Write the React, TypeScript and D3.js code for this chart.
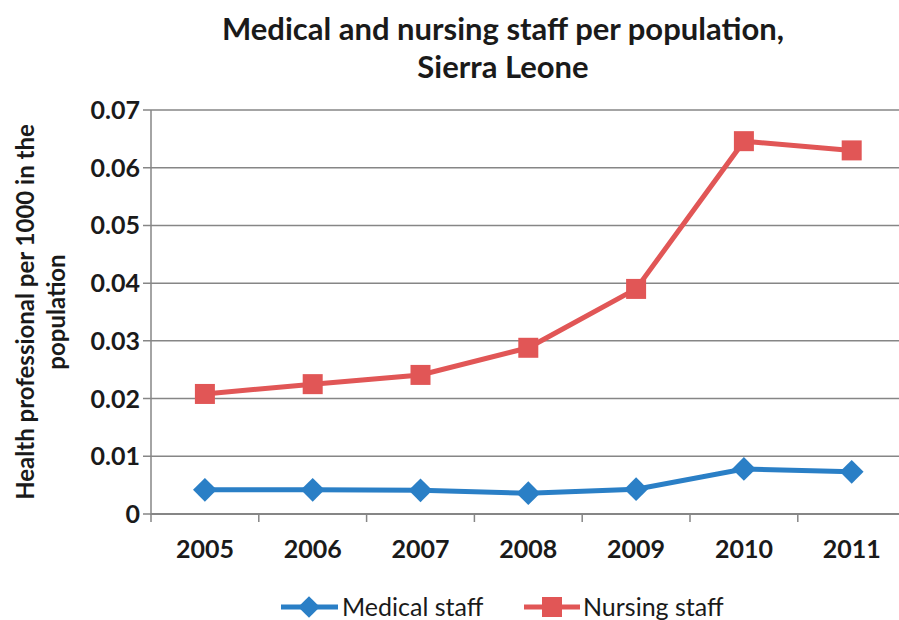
import React, { useEffect, useRef } from 'react';
import * as d3 from 'd3';

const years = ['2005', '2006', '2007', '2008', '2009', '2010', '2011'];
const medicalStaff = [0.0042, 0.0042, 0.0041, 0.0036, 0.0043, 0.0078, 0.0073];
const nursingStaff = [0.0208, 0.0225, 0.0241, 0.0288, 0.039, 0.0646, 0.063];
const yTicks = [0, 0.01, 0.02, 0.03, 0.04, 0.05, 0.06, 0.07];

const width = 899;
const height = 620;
const FONT = 'Lato, "Open Sans", sans-serif';

const App: React.FC = () => {
  const svgRef = useRef<SVGSVGElement | null>(null);

  useEffect(() => {
    if (!svgRef.current) return;
    const svg = d3.select(svgRef.current);
    svg.selectAll('*').remove();

    const left = 151;
    const top = 110;
    const bottom = 514;
    const bandW = 107.8;

    const x = d3.scaleBand<string>().domain(years).range([left, left + bandW * years.length]);
    const y = d3.scaleLinear().domain([0, 0.07]).range([bottom, top]);

    // title
    const title = svg.append('text')
      .attr('text-anchor', 'middle')
      .attr('font-family', FONT)
      .attr('font-weight', 'bold')
      .attr('font-size', 31)
      .attr('fill', '#1a1a1a');
    title.append('tspan').attr('x', 503).attr('y', 40).text('Medical and nursing staff per population,');
    title.append('tspan').attr('x', 503).attr('y', 78).text('Sierra Leone');

    // gridlines + y ticks
    const grid = svg.append('g');
    yTicks.forEach((t) => {
      grid.append('line')
        .attr('x1', left - 8).attr('x2', width)
        .attr('y1', y(t)).attr('y2', y(t))
        .attr('stroke', '#868686').attr('stroke-width', 1.5);
      grid.append('text')
        .attr('x', left - 11)
        .attr('y', y(t))
        .attr('dy', '0.36em')
        .attr('text-anchor', 'end')
        .attr('font-family', FONT)
        .attr('font-weight', 'bold')
        .attr('font-size', 25)
        .attr('fill', '#1a1a1a')
        .text(t === 0 ? '0' : d3.format('.2f')(t));
    });

    // axes
    svg.append('line')
      .attr('x1', left).attr('x2', left)
      .attr('y1', top).attr('y2', bottom + 1)
      .attr('stroke', '#868686').attr('stroke-width', 1.5);
    svg.append('line')
      .attr('x1', left).attr('x2', width)
      .attr('y1', bottom).attr('y2', bottom)
      .attr('stroke', '#868686').attr('stroke-width', 2);

    years.forEach((yr) => {
      const bx = x(yr)!;
      svg.append('line')
        .attr('x1', bx).attr('x2', bx)
        .attr('y1', bottom).attr('y2', bottom + 8)
        .attr('stroke', '#868686').attr('stroke-width', 1.5);
      svg.append('text')
        .attr('x', bx + x.bandwidth() / 2)
        .attr('y', 558)
        .attr('text-anchor', 'middle')
        .attr('font-family', FONT)
        .attr('font-weight', 'bold')
        .attr('font-size', 25)
        .attr('fill', '#1a1a1a')
        .text(yr);
    });

    // y axis title
    const yt = svg.append('text')
      .attr('transform', 'translate(0,312) rotate(-90)')
      .attr('text-anchor', 'middle')
      .attr('font-family', FONT)
      .attr('font-weight', 'bold')
      .attr('font-size', 24)
      .attr('fill', '#1a1a1a');
    yt.append('tspan').attr('x', 0).attr('y', 34).text('Health professional per 1000 in the');
    yt.append('tspan').attr('x', 0).attr('y', 65).text('population');

    const cx = (i: number) => x(years[i])! + x.bandwidth() / 2;
    const line = d3.line<number>().x((_, i) => cx(i)).y((d) => y(d));

    const blue = '#2a7fc6';
    const red = '#e15656';

    svg.append('path').datum(medicalStaff).attr('d', line)
      .attr('fill', 'none').attr('stroke', blue).attr('stroke-width', 5);
    svg.append('path').datum(nursingStaff).attr('d', line)
      .attr('fill', 'none').attr('stroke', red).attr('stroke-width', 5);

    const diamond = d3.symbol().type(d3.symbolDiamond2).size(360);
    svg.selectAll('.med').data(medicalStaff).enter().append('path')
      .attr('transform', (d, i) => `translate(${cx(i)},${y(d)})`)
      .attr('d', diamond)
      .attr('fill', blue);

    svg.selectAll('.nurse').data(nursingStaff).enter().append('rect')
      .attr('x', (_, i) => cx(i) - 10)
      .attr('y', (d) => y(d) - 10)
      .attr('width', 20).attr('height', 20)
      .attr('fill', red);

    // legend
    const lg = svg.append('g');
    lg.append('line').attr('x1', 281).attr('x2', 338).attr('y1', 607).attr('y2', 607)
      .attr('stroke', blue).attr('stroke-width', 5);
    lg.append('path').attr('transform', 'translate(309,607)').attr('d', d3.symbol().type(d3.symbolDiamond2).size(300)).attr('fill', blue);
    lg.append('text').attr('x', 342).attr('y', 616)
      .attr('font-family', FONT).attr('font-size', 25).attr('fill', '#1a1a1a').text('Medical staff');

    lg.append('line').attr('x1', 524).attr('x2', 580).attr('y1', 607).attr('y2', 607)
      .attr('stroke', red).attr('stroke-width', 5);
    lg.append('rect').attr('x', 542).attr('y', 597).attr('width', 20).attr('height', 20).attr('fill', red);
    lg.append('text').attr('x', 583).attr('y', 616)
      .attr('font-family', FONT).attr('font-size', 25).attr('fill', '#1a1a1a').text('Nursing staff');
  }, []);

  return (
    <svg
      ref={svgRef}
      width={width}
      height={height}
      style={{ position: 'absolute', left: 0, top: 0, background: '#fff' }}
    />
  );
};

export default App;
